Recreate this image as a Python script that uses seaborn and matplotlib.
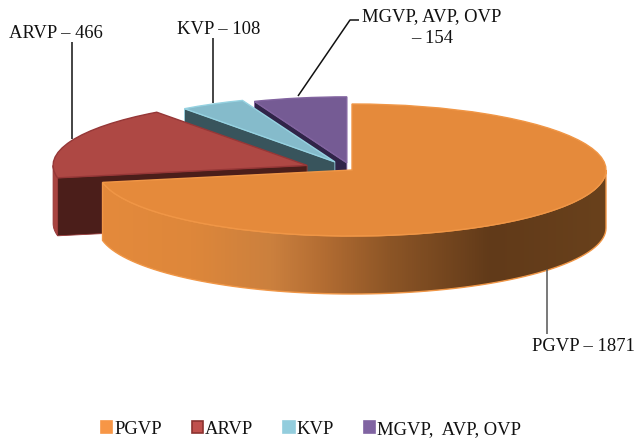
import numpy as np
import matplotlib
matplotlib.use("Agg")
import matplotlib.pyplot as plt
from matplotlib.colors import LinearSegmentedColormap
from matplotlib.patches import Patch, Polygon
import seaborn as sns

categories = ["PGVP", "ARVP", "KVP", "MGVP, AVP, OVP"]
values = [1871, 466, 108, 154]
legend_labels = ["PGVP", "ARVP", "KVP", "MGVP,  AVP, OVP"]
explode = [0, 0.19, 0.14, 0.11]

def rgb(*c):
    return tuple(v / 255 for v in c)

top_colors = sns.color_palette([rgb(229, 138, 59), rgb(174, 72, 68), rgb(133, 187, 203), rgb(117, 91, 148)])
edge_colors = [rgb(240, 150, 70), rgb(150, 55, 55), rgb(150, 210, 225), rgb(130, 100, 160)]
face_colors = [rgb(98, 58, 25), rgb(75, 30, 26), rgb(56, 84, 92), rgb(48, 36, 72)]
wall_colors = [rgb(229, 138, 59), rgb(168, 68, 64), rgb(110, 160, 175), rgb(100, 80, 130)]
legend_colors = [rgb(247, 150, 70), rgb(192, 80, 77), rgb(147, 205, 221), rgb(128, 100, 162)]
legend_edges = [rgb(247, 150, 70), rgb(140, 50, 48), rgb(147, 205, 221), rgb(128, 100, 162)]

sns.set_theme(style="white")
plt.rcParams["font.family"] = ["Liberation Serif", "DejaVu Serif"]

W, H = 635, 439
CX, CY, RX, RY, DEPTH_PX = 352, 171, 254, 66, 58
depth = DEPTH_PX / RY

fig = plt.figure(figsize=(W / 100, H / 100), dpi=100, facecolor="white")
ax = fig.add_axes([0, 0, 1, 1])

wedges, _ = ax.pie(values, explode=explode, startangle=90, counterclock=False,
                   colors=top_colors, radius=1, normalize=True)
ax.set_aspect("auto")
XLIM = ((0 - CX) / RX, (W - CX) / RX)
YLIM = ((CY - H) / RY, CY / RY)


def px(x, y):
    return (x - CX) / RX, (CY - y) / RY


def arc(w, a, b, n=80):
    t = np.radians(np.linspace(a, b, n))
    return w.center[0] + w.r * np.cos(t), w.center[1] + w.r * np.sin(t)


def wall_ranges(w):
    """Parts of the wedge rim on the front (lower) half of the ellipse."""
    out = []
    for shift in (0, -360, 360):
        a, b = max(w.theta1 + shift, -180), min(w.theta2 + shift, 0)
        if b > a:
            out.append((a, b))
    return out


cmap = LinearSegmentedColormap.from_list("wall", [
    (0.0, rgb(228, 138, 60)), (0.175, rgb(222, 135, 58)), (0.333, rgb(203, 128, 62)),
    (0.44, rgb(178, 108, 50)), (0.57, rgb(140, 85, 38)), (0.77, rgb(97, 58, 25)),
    (1.0, rgb(105, 65, 28))])

# draw back-to-front: purple, blue, red, orange
for order, i in enumerate([3, 2, 1, 0]):
    w = wedges[i]
    base = 2 + order * 3
    w.set_zorder(base + 2)
    w.set_edgecolor(edge_colors[i])
    w.set_linewidth(1.0)
    if explode[i] > 0:
        # cut face along the front radial edge
        ex, ey = arc(w, w.theta2, w.theta2, 1)
        cx, cy = w.center
        ax.add_patch(Polygon([(ex[0], ey[0]), (cx, cy), (cx, cy - depth), (ex[0], ey[0] - depth)],
                             closed=True, facecolor=face_colors[i],
                             edgecolor=edge_colors[i], linewidth=0.6, zorder=base + 1))
    for a, b in wall_ranges(w):
        xs, ys = arc(w, a, b)
        pts = np.r_[np.c_[xs, ys], np.c_[xs[::-1], ys[::-1] - depth]]
        if i == 0:
            poly = Polygon(pts, closed=True, facecolor="none", edgecolor=edge_colors[i],
                           linewidth=1.0, zorder=base + 1)
            ax.add_patch(poly)
            im = ax.imshow(np.linspace(0, 1, 512)[None, :], cmap=cmap, aspect="auto",
                           extent=(xs.min(), xs.max(), ys.min() - depth, ys.max()),
                           zorder=base, interpolation="bilinear")
            im.set_clip_path(poly)
        else:
            ax.add_patch(Polygon(pts, closed=True, facecolor=wall_colors[i],
                                 edgecolor=edge_colors[i], linewidth=0.6, zorder=base + 1))

ax.set_xlim(*XLIM)
ax.set_ylim(*YLIM)
ax.set_aspect("auto")
ax.axis("off")

# leader lines and value labels
leaders = [([(72, 43), (72, 140)], "#111111"), ([(213, 39), (213, 104)], "#111111"),
           ([(359, 21), (350, 21), (298, 97)], "#111111"), ([(546.5, 270), (546.5, 335)], "#555555")]
for pts, col in leaders:
    ax.plot(*zip(*[px(*p) for p in pts]), color=col, lw=1.1, zorder=30, solid_capstyle="butt")

labels = [("ARVP – 466", 55.5, 34), ("KVP – 108", 219, 30), ("MGVP, AVP, OVP", 431.5, 17),
          ("– 154", 432, 39), ("PGVP – 1871", 583.5, 347)]
for txt, x, y in labels:
    ax.text(*px(x, y), txt, ha="center", va="center", fontsize=13.4, color="#111111", zorder=31)

handles = [Patch(facecolor=c, edgecolor=e, linewidth=1.2, label=l)
           for c, e, l in zip(legend_colors, legend_edges, legend_labels)]
fig.legend(handles=handles, loc="center", bbox_to_anchor=(311 / W, 1 - 430 / H), ncol=4,
           frameon=False, fontsize=13.4, handlelength=0.62, handleheight=0.62,
           handletextpad=0.1, columnspacing=1.6, labelcolor="#111111", borderpad=0)

fig.savefig("out.png", dpi=100, facecolor="white")
